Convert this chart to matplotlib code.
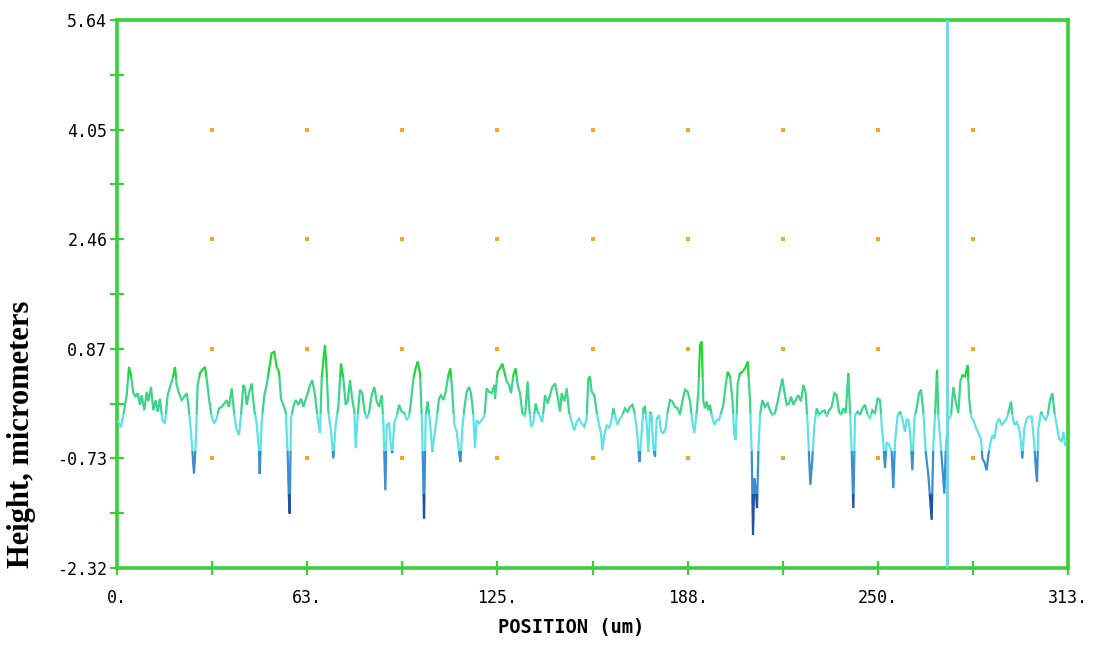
import numpy as np
import matplotlib
matplotlib.use("Agg")
import matplotlib.pyplot as plt
from matplotlib.patches import Rectangle
from matplotlib.ticker import FixedLocator

# ---------------- data (position in um, height in um) ----------------
pos_a = [0.44,1.32,2.08,3.18,3.95,4.61,5.38,6.14,6.80,7.57,8.12,9.00,9.76,10.31,11.19,11.96,12.72,13.38,14.15,14.92,
         15.80,16.67,17.44,18.21,19.09,19.64,20.40,21.28,22.16,22.93,23.48,24.35,24.90,25.34,25.89,26.55,27.32,28.08,28.96,29.62,
         30.28,31.16,32.03,32.80,33.57,34.45,35.33,36.09,36.86,37.74,38.62,39.39,40.15,40.81,41.58,42.13,42.68,43.44,44.32,45.20,
         45.97,46.74,46.96,47.61,48.49,49.26,50.03,50.90,51.78,52.55,53.32,53.98,54.74,55.51,56.17,56.50,56.83,57.27,58.04,58.80,
         59.68,60.56,61.33]
h_a = [-0.20,-0.27,-0.10,0.19,0.60,0.48,0.22,0.17,0.22,0.05,0.19,-0.03,0.24,0.10,0.31,-0.03,0.12,-0.05,0.14,-0.17,
       -0.22,0.19,0.31,0.41,0.60,0.34,0.22,0.12,0.17,0.22,0.05,-0.34,-0.68,-0.95,-0.53,0.34,0.51,0.56,0.60,0.39,
       0.14,-0.12,-0.22,-0.15,0.00,0.02,0.07,0.12,0.02,0.29,-0.10,-0.32,-0.39,-0.10,0.34,0.29,0.05,0.22,0.36,-0.03,
       -0.22,-0.63,-0.95,-0.20,0.19,0.34,0.56,0.80,0.82,0.60,0.53,0.14,0.05,-0.05,-0.65,-1.21,-1.53,-0.15,0.02,0.12,
       0.05,0.14,0.02]

pos_b = [61.88,62.76,63.53,64.29,65.17,66.05,66.82,67.37,67.91,68.46,69.01,69.56,70.44,71.21,71.97,72.85,73.73,74.50,75.27,75.92,
         76.69,77.24,78.12,78.56,79.21,79.98,80.75,81.41,82.18,82.94,83.82,84.70,85.47,86.24,87.11,87.66,87.99,88.32,88.76,89.53,
         90.19,90.62,91.28,92.05,92.82,93.70,94.57,95.34,96.11,96.77,97.54,98.30,98.96,99.73,100.28,100.72,101.05,101.60,102.25,103.02,
         103.79,104.45,105.22,105.98,106.64,107.41,108.18,109.06,109.71,110.37,111.03,111.80,112.57,113.01,113.66,114.32,115.09,115.86,116.52,117.28,
         117.83,118.38,119.15,120.03,120.91,121.67,122.44,123.32,124.20]
h_b = [0.10,0.22,0.34,0.41,0.19,-0.15,-0.36,0.43,0.70,0.92,0.53,-0.05,-0.34,-0.73,-0.24,0.02,0.65,0.43,0.05,0.10,
       0.41,0.19,-0.05,-0.58,-0.10,0.27,0.22,-0.03,-0.15,-0.07,0.19,0.31,0.10,0.02,0.19,-0.20,-0.68,-1.19,-0.24,-0.22,
       -0.58,-0.65,-0.20,-0.12,0.05,-0.05,-0.07,-0.17,-0.12,0.10,0.43,0.58,0.68,0.51,-0.10,-0.87,-1.60,-0.10,0.10,-0.20,
       -0.63,-0.39,-0.15,0.14,0.19,0.12,0.24,0.48,0.58,0.22,-0.24,-0.34,-0.63,-0.78,-0.29,0.00,0.24,0.31,0.22,-0.10,
       -0.58,-0.17,-0.22,-0.17,-0.12,0.29,0.24,0.22,0.34]

pos_c = [124.41,125.29,126.06,126.82,127.48,128.25,129.02,129.68,130.44,131.21,131.87,132.64,133.41,134.28,135.16,135.60,136.26,137.03,137.79,138.45,
         139.22,139.99,140.87,141.74,142.51,143.28,144.16,145.04,145.80,146.35,147.23,148.00,148.77,149.64,150.52,151.29,152.06,152.93,153.81,154.58,
         155.13,155.68,156.23,157.10,157.87,158.64,159.30,159.74,160.40,161.16,161.93,162.59,163.36,164.13,164.78,165.55,166.32,167.20,168.08,168.84,
         169.61,170.27,171.04,171.59,171.92,172.46,173.23,173.78,174.44,174.88,175.43,175.97,176.52,177.07,177.62,178.39,179.05,179.81,180.58,181.24,
         182.01,182.78,183.65,184.53,185.30,186.07]
h_c = [0.14,0.53,0.58,0.65,0.53,0.39,0.34,0.22,0.48,0.58,0.34,0.22,-0.07,-0.12,0.39,0.05,-0.27,-0.20,0.07,-0.05,
       -0.12,-0.20,0.19,0.07,0.19,0.31,0.36,0.17,-0.05,0.22,0.10,0.29,-0.05,-0.20,-0.32,-0.20,-0.15,-0.22,-0.27,-0.15,
       0.43,0.46,0.24,0.19,-0.05,-0.24,-0.36,-0.61,-0.39,-0.24,-0.29,-0.20,0.00,-0.15,-0.24,-0.15,-0.10,0.00,-0.05,0.02,
       0.05,-0.05,-0.29,-0.58,-0.78,-0.49,0.00,0.02,-0.29,-0.63,-0.05,-0.10,-0.58,-0.70,-0.15,-0.10,-0.34,-0.36,-0.29,-0.05,
       0.12,0.10,0.02,0.00,-0.10,0.10]

pos_d = [186.95,187.83,188.60,189.36,190.02,190.79,191.34,191.89,192.44,192.98,193.53,194.08,194.63,195.18,195.73,196.60,197.37,198.14,198.80,199.57,
         200.33,200.99,201.76,202.53,203.19,203.63,204.28,205.05,205.82,206.70,207.58,208.34,208.89,209.33,209.77,210.21,210.65,211.09,211.63,212.40,
         213.28,214.16,214.93,215.69,216.57,217.45,218.22,218.99,219.64,220.41,221.18,221.84,222.61,223.37,224.25,225.13,225.90,226.67,227.32,227.76,
         228.20,228.86,229.52,230.29,231.05,231.93,232.81,233.58,234.35,235.22,236.10,236.87,237.64,238.29,239.06,239.83,240.71,241.26,241.81,242.35,
         242.90,243.78,244.55,245.32,246.19,247.07,247.84,248.61]
h_d = [0.27,0.24,0.10,-0.20,-0.36,-0.05,0.24,0.92,0.97,0.10,0.00,0.10,-0.03,0.05,-0.10,-0.24,-0.17,-0.17,-0.07,0.05,
       0.34,0.53,0.46,0.14,-0.39,-0.46,0.36,0.51,0.53,0.58,0.68,0.10,-0.63,-1.84,-1.02,-1.16,-1.45,-0.63,-0.10,0.12,
       0.02,0.07,-0.03,-0.10,-0.07,0.10,0.27,0.43,0.24,0.05,0.07,0.17,0.05,0.12,0.19,0.10,0.34,0.22,-0.24,-0.68,
       -1.11,-0.73,-0.24,0.00,-0.10,-0.05,-0.03,-0.12,-0.03,0.02,0.22,0.19,-0.05,-0.10,0.00,-0.07,0.51,-0.07,-0.63,-1.45,
       -0.10,-0.05,-0.10,0.00,0.05,-0.10,-0.15,-0.03]

pos_e = [249.48,250.36,251.13,251.67,252.22,252.77,253.32,254.09,254.97,255.51,256.06,256.94,257.71,258.48,259.35,260.01,260.67,261.33,261.77,262.43,
         263.19,263.96,264.62,265.39,266.16,267.03,267.69,268.13,268.68,269.23,269.89,270.32,271.20,271.86,272.30,272.85,273.62,274.49,275.26,276.03,
         276.91,277.57,278.22,279.10,279.98,280.42,281.08,281.84,282.61,283.49,284.37,284.81,285.47,286.23,286.78,287.33,288.10,288.76,289.52,290.29,
         291.17,292.05,292.82,293.58,294.24,294.68,295.34,296.11,296.88,297.53,297.97,298.63,299.40,300.17,301.04,301.92,302.36,302.80,303.24,304.12,
         304.88,305.65,306.31,307.08,307.85,308.51,309.27,310.04,310.92,311.47,312.02]
h_e = [-0.07,0.14,0.12,-0.24,-0.51,-0.87,-0.49,-0.53,-0.63,-1.16,-0.49,-0.10,-0.05,-0.15,-0.34,-0.15,-0.20,-0.53,-0.90,-0.15,
       0.00,0.22,0.27,-0.05,-0.63,-0.97,-1.36,-1.62,-0.53,-0.10,0.56,-0.12,-0.58,-0.97,-1.24,-0.49,-0.17,-0.10,0.31,0.10,
       -0.07,0.39,0.48,0.46,0.63,0.17,-0.12,-0.17,-0.27,-0.36,-0.44,-0.73,-0.78,-0.90,-0.68,-0.53,-0.39,-0.44,-0.22,-0.15,
       -0.24,-0.20,-0.15,-0.03,0.10,-0.10,-0.24,-0.20,-0.29,-0.49,-0.73,-0.29,-0.15,-0.12,-0.12,-0.53,-0.85,-1.07,-0.29,-0.05,
       -0.12,-0.17,-0.10,0.12,0.22,-0.05,-0.24,-0.44,-0.49,-0.34,-0.53]

x_min, x_max = 0.0, 313.0
y_min, y_max = -2.32, 5.64
x_tick_labels = ["0.", "", "63.", "", "125.", "", "188.", "", "250.", "", "313."]
y_tick_labels = ["-2.32", "-0.73", "0.87", "2.46", "4.05", "5.64"]
cursor_pos = 273.2

positions = np.concatenate([pos_a, pos_b, pos_c, pos_d, pos_e])
heights = np.concatenate([h_a, h_b, h_c, h_d, h_e])

# ---------------- figure ----------------
fig = plt.figure(figsize=(10.95, 6.49), dpi=100)
ax = fig.add_axes([117 / 1095, 1 - 568 / 649, (1068 - 117) / 1095, (568 - 20) / 649])
ax.set_xlim(x_min, x_max)
ax.set_ylim(y_min, y_max)

green = "#3ccf3c"
for s in ax.spines.values():
    s.set_color(green)
    s.set_linewidth(2.6)

# grid dots
x_ticks = np.linspace(x_min, x_max, 11)
y_ticks = np.linspace(y_min, y_max, 6)
gx, gy = np.meshgrid(x_ticks[1:-1], y_ticks[1:-1])
ax.plot(gx.ravel(), gy.ravel(), linestyle="none", marker="s", markersize=2.8,
        color="#f5a623", markeredgewidth=0, zorder=2)

# trace coloured by height bands
bands = [
    (0.45, 10, "#26d43e"),
    (-0.08, 0.45, "#3ed58a"),
    (-0.62, -0.08, "#5ee2e6"),
    (-1.25, -0.62, "#3b8ed0"),
    (-10, -1.25, "#2450a8"),
]
for lo, hi, col in bands:
    ln, = ax.plot(positions, heights, color=col, linewidth=1.6, zorder=3,
                  solid_joinstyle="miter")
    clip = Rectangle((x_min - 5, lo), x_max - x_min + 10, hi - lo, transform=ax.transData)
    ln.set_clip_path(clip)

# cursor
ax.axvline(cursor_pos, color="#66d9e6", linewidth=2.0, zorder=4)

# ticks
tick_font = "DejaVu Sans Mono"
ax.xaxis.set_major_locator(FixedLocator(x_ticks))
ax.set_xticklabels(x_tick_labels, family=tick_font, fontsize=12)
ax.yaxis.set_major_locator(FixedLocator(y_ticks))
ax.set_yticklabels(y_tick_labels, family=tick_font, fontsize=12)
ax.yaxis.set_minor_locator(FixedLocator((y_ticks[:-1] + y_ticks[1:]) / 2))
ax.tick_params(axis="both", which="both", direction="inout", length=10, width=1.6,
               color=green)
ax.tick_params(axis="x", pad=10)
ax.tick_params(axis="y", pad=2)

fig.text(571 / 1095, 1 - 627 / 649, "POSITION (um)", family="DejaVu Sans Mono",
         fontweight="bold", fontsize=13.5, ha="center", va="center")
fig.text(22 / 1095, 1 - 434 / 649, "Height, micrometers", family=["Liberation Serif", "DejaVu Serif"],
         fontweight="bold", fontsize=22, rotation=90, ha="center", va="center")

fig.savefig("out.png", dpi=100, facecolor="white")
